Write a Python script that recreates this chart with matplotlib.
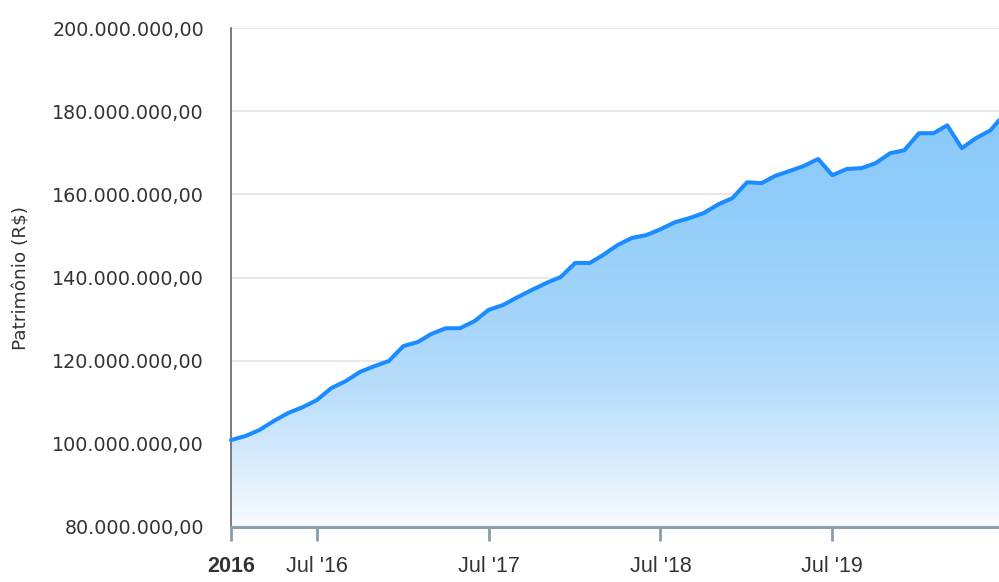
import matplotlib
matplotlib.use('Agg')
import matplotlib.pyplot as plt
import matplotlib.dates as mdates
import numpy as np
import pandas as pd
from matplotlib.colors import LinearSegmentedColormap
from matplotlib.ticker import FixedLocator, FuncFormatter

# ---- data (values in millions of R$) ----
dates = list(pd.date_range('2016-01-01', '2020-06-01', freq='MS')) + [pd.Timestamp('2020-06-19')]
values_mi = [
    100.9, 101.9, 103.3, 105.5, 107.4, 108.8, 110.5, 113.4, 115.1, 117.3, 118.7, 119.9,
    123.5, 124.5, 126.4, 127.8, 127.8, 129.5, 132.2, 133.4, 135.3, 137.0, 138.7, 140.1,
    143.5, 143.5, 145.4, 147.8, 149.5, 150.2, 151.6, 153.3, 154.3, 155.5, 157.6, 159.1,
    162.9, 162.7, 164.4, 165.6, 166.8, 168.5, 164.6, 166.1, 166.3, 167.5, 169.9, 170.6,
    174.7, 174.7, 176.6, 171.1, 173.5, 175.4, 177.8,
]
yticks_vals = [80e6, 100e6, 120e6, 140e6, 160e6, 180e6, 200e6]
xtick_dates = ['2016-01-01', '2016-07-01', '2017-07-01', '2018-07-01', '2019-07-01']
xtick_labels = ['2016', "Jul '16", "Jul '17", "Jul '18", "Jul '19"]
y_title = 'Patrimônio (R$)'

values = np.array(values_mi) * 1e6
x = mdates.date2num(dates)

fig = plt.figure(figsize=(9.99, 5.82), dpi=100)
ax = fig.add_axes([231/999, (582-527)/582, (999-231)/999, (527-28)/582])

ymin, ymax = 80e6, 200e6
xmin, xmax = x[0], x[-1]
ax.set_xlim(xmin, xmax)
ax.set_ylim(ymin, ymax)

# gradient fill
cmap = LinearSegmentedColormap.from_list('g', [
    (0.0, (0.975, 0.985, 1.0)),
    (0.17, (0.84, 0.92, 0.99)),
    (0.33, (0.73, 0.87, 0.985)),
    (0.50, (0.65, 0.835, 0.98)),
    (0.82, (0.56, 0.80, 0.98)),
    (1.0, (0.55, 0.79, 0.98)),
])
grad = np.linspace(0, 1, 256).reshape(-1, 1)
im = ax.imshow(grad, cmap=cmap, aspect='auto', origin='lower',
               extent=[xmin, xmax, ymin, values.max()], zorder=1, interpolation='bilinear')
poly = ax.fill_between(x, values, ymin, facecolor='none', edgecolor='none', zorder=1)
clip = poly.get_paths()[0]
im.set_clip_path(clip, transform=ax.transData)

ax.plot(x, values, color='#1a8cff', lw=2.9, solid_joinstyle='round', solid_capstyle='round',
        zorder=3, clip_on=False)

# grid
ax.yaxis.set_major_locator(FixedLocator(yticks_vals))
ax.grid(axis='y', color='#e3e3e3', lw=1.1, zorder=0)
ax.set_axisbelow(True)

def fmt(v, pos):
    s = f"{v:,.2f}"
    return s.replace(',', 'X').replace('.', ',').replace('X', '.')
ax.yaxis.set_major_formatter(FuncFormatter(fmt))
ax.tick_params(axis='y', length=0, pad=19.5, labelsize=13.8, labelcolor='#333333')
for lab in ax.get_yticklabels():
    lab.set_fontfamily('DejaVu Sans')

ax.xaxis.set_major_locator(FixedLocator(mdates.date2num(pd.to_datetime(xtick_dates))))
ax.set_xticklabels(xtick_labels)
ax.tick_params(axis='x', length=10, width=2, color='#8a9cab', pad=11, labelsize=15.5, labelcolor='#333333')
for i, lab in enumerate(ax.get_xticklabels()):
    lab.set_fontfamily('Liberation Sans')
    if i == 0:
        lab.set_fontweight('bold')

for s in ['top', 'right']:
    ax.spines[s].set_visible(False)
ax.spines['left'].set_color('#666666')
ax.spines['left'].set_linewidth(1.2)
ax.spines['bottom'].set_color('#8fa0ad')
ax.spines['bottom'].set_linewidth(2.2)
ax.spines['bottom'].set_zorder(4)

fig.text(22/999, 1 - 277.5/582, y_title, rotation=90, ha='center', va='center',
         fontsize=13.3, color='#333333', family='DejaVu Sans')

fig.savefig('out.png', dpi=100)
